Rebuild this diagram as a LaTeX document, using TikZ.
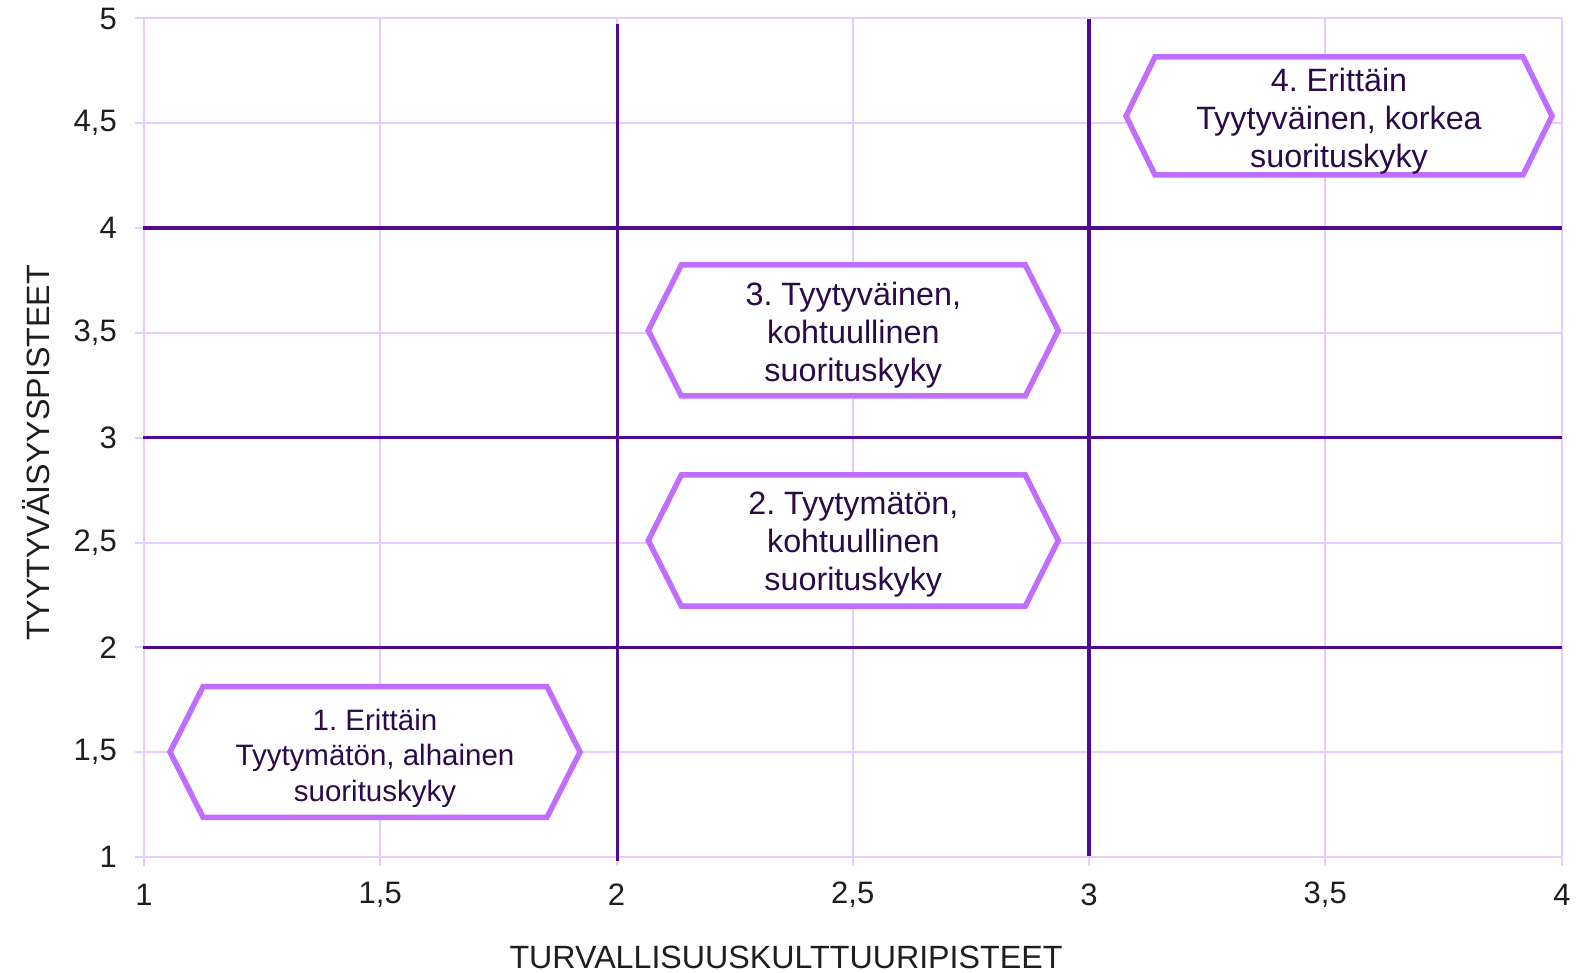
\documentclass[tikz,border=0pt]{standalone}
\usepackage{fontspec}
\setmainfont{Liberation Sans}
\frenchspacing
\definecolor{gridc}{HTML}{E6CDFF}
\definecolor{thickc}{HTML}{4E0A92}
\definecolor{hexc}{HTML}{BF6EFF}
\definecolor{txtc}{HTML}{2B0A48}
\definecolor{axc}{HTML}{1E1E1E}
\tikzset{
 gridline/.style={draw=gridc,line width=2pt},
 divline/.style={draw=thickc,line width=3.5pt},
 hexbox/.style={draw=hexc,line width=5.5pt,fill=white,line join=miter},
 hextext/.style={text=txtc,align=center,inner sep=0pt,font=\fontsize{32.3}{38}\selectfont},
 hextextsmall/.style={text=txtc,align=center,inner sep=0pt,font=\fontsize{29.5}{35.5}\selectfont},
 ticklab/.style={text=axc,inner sep=0pt,font=\fontsize{31}{36}\selectfont},
 axtitle/.style={text=axc,inner sep=0pt,font=\fontsize{32.2}{36}\selectfont},
}
\newcommand\hexshape[5]{%
 \draw[hexbox] ({#1-#3},#2) -- ({#1-#3+#5},{#2-#4}) -- ({#1+#3-#5},{#2-#4})
  -- ({#1+#3},#2) -- ({#1+#3-#5},{#2+#4}) -- ({#1-#3+#5},{#2+#4}) -- cycle;}
\begin{document}
\begin{tikzpicture}[x=1pt,y=-1pt]
\useasboundingbox (0,0) rectangle (1591,973);
\fill[white] (0,0) rectangle (1591,973);
% light grid
\foreach \xx in {144,380.25,616.5,852.75,1089,1325.25,1562}
  \draw[gridline] (\xx,18.5) -- (\xx,866);
\foreach \yy in {18.5,123.3,228.1,332.9,437.7,542.5,647.3,752.1,856.9}
  \draw[gridline] (135,\yy) -- (1562,\yy);
% y tick labels
\node[ticklab,anchor=east] (y50) at (117,18.5) {5};
\node[ticklab,anchor=east] (y45) at (117,123.3) {4,5};
\node[ticklab,anchor=east] (y40) at (117,228.1) {4};
\node[ticklab,anchor=east] (y35) at (117,332.9) {3,5};
\node[ticklab,anchor=east] (y30) at (117,437.7) {3};
\node[ticklab,anchor=east] (y25) at (117,542.5) {2,5};
\node[ticklab,anchor=east] (y20) at (117,647.3) {2};
\node[ticklab,anchor=east] (y15) at (117,752.1) {1,5};
\node[ticklab,anchor=east] (y10) at (117,856.9) {1};
% x tick labels
\node[ticklab] (x10) at (144,895) {1};
\node[ticklab] (x15) at (380.25,895) {1,5};
\node[ticklab] (x20) at (616.5,895) {2};
\node[ticklab] (x25) at (852.75,895) {2,5};
\node[ticklab] (x30) at (1089,895) {3};
\node[ticklab] (x35) at (1325.25,895) {3,5};
\node[ticklab] (x40) at (1562,895) {4};
% axis titles
\node[axtitle] (xtitle) at (786,957) {TURVALLISUUSKULTTUURIPISTEET};
\node[axtitle,rotate=90] (ytitle) at (36,453) {TYYTYVÄISYYSPISTEET};
% dividing lines
\draw[divline] (143,228.1) -- (1562,228.1);
\draw[divline] (143,437.7) -- (1562,437.7);
\draw[divline] (143,647.3) -- (1562,647.3);
\draw[divline] (617.5,24) -- (617.5,860.5);
\draw[divline] (1089,19) -- (1089,855.5);
% hexagons
\hexshape{375}{752}{205}{65.3}{33}
\node[hextextsmall] (q1) at (375,758) {1. Erittäin\\Tyytymätön, alhainen\\suorituskyky};
\hexshape{853.3}{540.5}{205}{65.5}{33}
\node[hextext] (q2) at (853.3,545) {2. Tyytymätön,\\kohtuullinen\\suorituskyky};
\hexshape{853.3}{330.5}{205}{65.5}{33}
\node[hextext] (q3) at (853.3,335) {3. Tyytyväinen,\\kohtuullinen\\suorituskyky};
\hexshape{1339}{116}{213}{59}{29}
\node[hextext] (q4) at (1339,121) {4. Erittäin\\Tyytyväinen, korkea\\suorituskyky};
\end{tikzpicture}
\end{document}
